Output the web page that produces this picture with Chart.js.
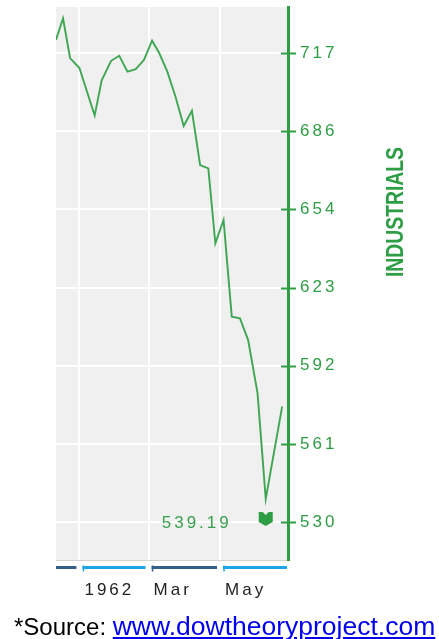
<!DOCTYPE html>
<html>
<head>
<meta charset="utf-8">
<script src="https://cdn.jsdelivr.net/npm/chart.js@4"></script>
<style>
  body { margin: 0; background: #fff; }
  #wrap { position: relative; width: 439px; height: 639px; }
  #source {
    position: absolute; left: 14px; top: 612px;
    font-family: 'Liberation Sans', Arial, sans-serif;
    font-size: 24px; line-height: 28px; color: #000; white-space: nowrap;
  }
  #source a { color: #0000ee; font-size: 26.5px; text-decoration: underline; }
</style>
</head>
<body>
<div id="wrap">
  <canvas id="dow" width="439" height="639"></canvas>
  <div id="source">*Source: <a href="http://www.dowtheoryproject.com">www.dowtheoryproject.com</a></div>
</div>
<script>
// days from 1 Jan 1962 (weekly closes), Dow Jones Industrials
const days = [-20, -14, -8, 0, 13, 19, 27, 34, 41, 48, 55, 62, 68, 75, 82, 89, 96, 103, 110, 116, 123, 130, 137, 144, 152, 159, 173];
const industrials = [721.8, 730.4, 714.6, 710.6, 691.7, 705.7, 713.5, 715.5, 709.2, 710.2, 713.8, 721.5, 716.7, 709.2, 699.2, 687.6, 693.6, 672.0, 670.7, 640.9, 650.2, 611.7, 611.0, 602.4, 581.3, 539.19, 575.9];
const yTicks = [530, 561.1, 592.2, 623.3, 654.4, 685.5, 716.6];
const xTicks = [0, 59, 120];
const xTickLabels = ["1962", "Mar", "May"];

const GREEN = "#2e9e45";
const FONT = "'Liberation Sans', Arial, sans-serif";

const decor = {
    id: "decor",
    beforeDraw(chart) {
        const { ctx, chartArea: a } = chart;
        ctx.letterSpacing = "3px";
        ctx.save();
        ctx.fillStyle = "#f0f0f0";
        ctx.fillRect(a.left, a.top, a.right - a.left, a.bottom - a.top);
        ctx.restore();
    },
    afterDraw(chart) {
        const { ctx, chartArea: a, scales } = chart;
        const x = scales.x, y = scales.y;
        ctx.save();
        // y tick marks crossing the axis
        ctx.strokeStyle = GREEN;
        ctx.lineWidth = 2;
        yTicks.forEach((v) => {
            const py = Math.round(y.getPixelForValue(v)) + 0.5;
            ctx.beginPath();
            ctx.moveTo(a.right - 7, py);
            ctx.lineTo(a.right + 8, py);
            ctx.stroke();
        });
        // month bar under the plot
        const bounds = [x.min].concat(xTicks, [x.max]);
        const barY = 567.5;
        for (let i = 0; i < bounds.length - 1; i++) {
            const s = x.getPixelForValue(bounds[i]) + (i > 0 ? 3 : 0);
            const e = x.getPixelForValue(bounds[i + 1]) - (i < bounds.length - 2 ? 3 : 1);
            ctx.strokeStyle = i % 2 ? "#1da4e6" : "#345f8c";
            ctx.lineWidth = 3;
            ctx.beginPath();
            ctx.moveTo(s, barY);
            ctx.lineTo(e, barY);
            ctx.stroke();
            if (i > 0) {
                ctx.lineWidth = 1.5;
                ctx.beginPath();
                ctx.moveTo(s + 1, barY - 2);
                ctx.lineTo(s + 1, barY + 4);
                ctx.stroke();
            }
        }
        // low marker and its value
        let lo = 0;
        industrials.forEach((v, i) => { if (v < industrials[lo]) lo = i; });
        const mx = x.getPixelForValue(days[lo]);
        const my = y.getPixelForValue(530) - 3;
        ctx.fillStyle = GREEN;
        ctx.beginPath();
        ctx.moveTo(mx - 7, my - 7);
        ctx.lineTo(mx - 3, my - 7);
        ctx.lineTo(mx, my - 4);
        ctx.lineTo(mx + 3, my - 7);
        ctx.lineTo(mx + 7, my - 7);
        ctx.lineTo(mx + 7, my + 3);
        ctx.lineTo(mx, my + 7);
        ctx.lineTo(mx - 7, my + 3);
        ctx.closePath();
        ctx.fill();
        ctx.fillStyle = "#3aa04e";
        ctx.font = "17px " + FONT;
        ctx.textAlign = "right";
        ctx.textBaseline = "middle";
        ctx.fillText(industrials[lo].toFixed(2), mx - 34, y.getPixelForValue(530) + 1);
        // axis name
        ctx.letterSpacing = "0px";
        ctx.translate(403, 212);
        ctx.rotate(-Math.PI / 2);
        ctx.font = "bold 24px 'Liberation Sans Narrow', 'Liberation Sans', Arial, sans-serif";
        ctx.textAlign = "center";
        ctx.textBaseline = "alphabetic";
        const w = ctx.measureText("INDUSTRIALS").width;
        ctx.scale(130 / w, 1);
        ctx.fillStyle = GREEN;
        ctx.fillText("INDUSTRIALS", 0, 0);
        ctx.restore();
    },
};

new Chart(document.getElementById("dow"), {
    type: "line",
    data: {
        datasets: [
            {
                label: "Industrials",
                data: days.map((d, i) => ({ x: d, y: industrials[i] })),
                borderColor: "#3fa653",
                borderWidth: 1.9,
                pointRadius: 0,
                tension: 0,
            },
        ],
    },
    options: {
        responsive: false,
        animation: false,
        layout: { padding: { left: 56, top: 7, right: 0, bottom: 0 } },
        plugins: { legend: { display: false }, tooltip: { enabled: false } },
        scales: {
            x: {
                type: "linear",
                min: -20,
                max: 178,
                afterBuildTicks: (s) => { s.ticks = xTicks.map((v) => ({ value: v })); },
                afterFit: (s) => { s.height = 79; s.paddingLeft = 0; s.paddingRight = 0; },
                grid: { color: "#ffffff", lineWidth: 2, drawTicks: false },
                border: { color: "#d2d2d2", width: 1 },
                ticks: {
                    autoSkip: false,
                    maxRotation: 0,
                    align: "start",
                    labelOffset: 5,
                    padding: 20,
                    color: "#222",
                    font: { family: FONT, size: 17 },
                    callback: (v, i) => xTickLabels[i],
                },
            },
            y: {
                position: "right",
                min: 514.9,
                max: 734.9,
                afterBuildTicks: (s) => { s.ticks = yTicks.map((v) => ({ value: v })); },
                afterFit: (s) => { s.width = 151; s.paddingTop = 0; s.paddingBottom = 0; },
                grid: { color: "#ffffff", lineWidth: 2, tickLength: 8, tickColor: "rgba(0,0,0,0)" },
                border: { color: GREEN, width: 3 },
                ticks: {
                    padding: 4,
                    color: GREEN,
                    font: { family: FONT, size: 17 },
                    callback: (v) => Math.round(v),
                },
            },
        },
    },
    plugins: [decor],
});
</script>
</body>
</html>
